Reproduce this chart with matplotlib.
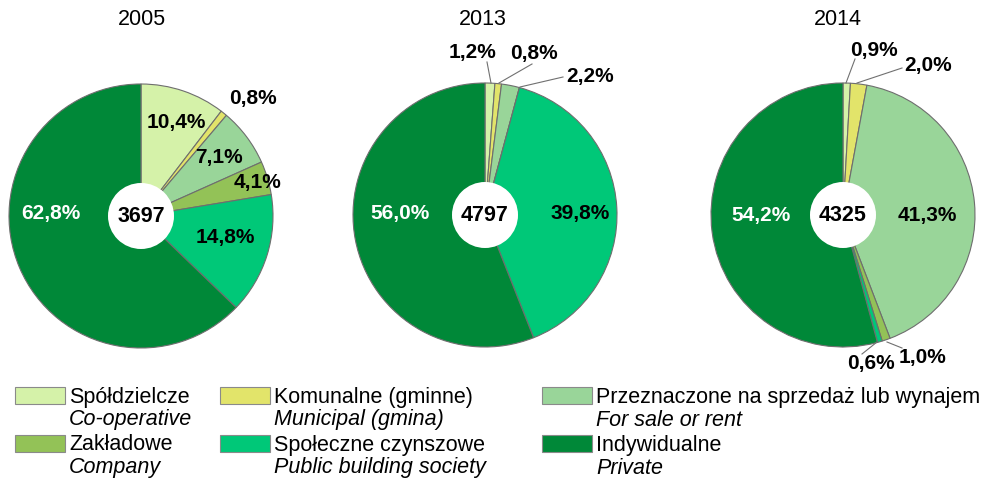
import matplotlib
matplotlib.use("Agg")
import matplotlib.pyplot as plt
from matplotlib.patches import Rectangle, Circle

plt.rcParams['font.family'] = ['Liberation Sans', 'DejaVu Sans']

W, H = 989, 478

# ---- data ----
categories_pl = ["Spółdzielcze", "Komunalne (gminne)",
                 "Przeznaczone na sprzedaż lub wynajem", "Zakładowe",
                 "Społeczne czynszowe", "Indywidualne"]
categories_en = ["Co-operative", "Municipal (gmina)", "For sale or rent",
                 "Company", "Public building society", "Private"]
years = ["2005", "2013", "2014"]
totals = [3697, 4797, 4325]
share_2005 = [10.4, 0.8, 7.1, 4.1, 14.8, 62.8]
share_2013 = [1.2, 0.8, 2.2, 0.0, 39.8, 56.0]
share_2014 = [0.9, 2.0, 41.3, 1.0, 0.6, 54.2]
shares = [share_2005, share_2013, share_2014]

# ---- style / layout ----
colors = ["#d5f2a9", "#e2e46a", "#99d599", "#93c257", "#00c878", "#008838"]
edge = "#6e6e6e"
centers = [(141, 216), (485, 215), (843, 215)]   # image pixel coords
radius = 132
hole_r = 33

# label positions (image pixel coords), None = no label
label_pos = [
    [(176, 122), (253, 98), (219, 157), (258, 182), (225, 237), (51, 213)],
    [(473, 52), (534, 53), (590, 76), None, (580, 213), (400, 213)],
    [(874, 50), (928, 65), (927, 215), (923, 357), (871, 364), (761, 215)],
]
# leader lines (image pixel coords) per pie, index -> (start, end)
leaders = [
    {},
    {0: ((487, 62), (491, 83)), 1: ((532, 64), (499, 83)), 2: ((563, 77), (520, 87))},
    {0: ((855, 59), (846, 83)), 1: ((902, 68), (857, 83)),
     3: ((902, 348), (887, 342)), 4: ((862, 354), (877, 342))},
]
title_x = [142, 483, 838]


def Y(y):
    return H - y


fig = plt.figure(figsize=(W / 100, H / 100), dpi=100)
ax = fig.add_axes([0, 0, 1, 1])
ax.set_xlim(0, W)
ax.set_ylim(0, H)
ax.set_aspect('equal')
ax.axis('off')

for i, vals in enumerate(shares):
    cx, cy = centers[i]
    ax.pie(vals, colors=colors, startangle=90, counterclock=False,
           center=(cx, Y(cy)), radius=radius,
           wedgeprops=dict(edgecolor=edge, linewidth=0.8), frame=True)
    ax.add_patch(Circle((cx, Y(cy)), hole_r, facecolor='white',
                        edgecolor='none', zorder=5))
    ax.text(cx, Y(cy), str(totals[i]), ha='center', va='center',
            fontsize=15.5, fontweight='bold', color='black', zorder=6)
    ax.text(title_x[i], Y(19), years[i], ha='center', va='center',
            fontsize=15.5, color='black')
    for j, v in enumerate(vals):
        pos = label_pos[i][j]
        if pos is None:
            continue
        txt = f"{v:.1f}%".replace('.', ',')
        col = 'white' if j == 5 else 'black'
        ax.text(pos[0], Y(pos[1]), txt, ha='center', va='center',
                fontsize=15, fontweight='bold', color=col, zorder=7)
    for j, (p0, p1) in leaders[i].items():
        ax.plot([p0[0], p1[0]], [Y(p0[1]), Y(p1[1])], color='#707070',
                linewidth=0.8, zorder=4)

ax.set_xlim(0, W)
ax.set_ylim(0, H)
ax.axis('off')

# ---- legend ----
leg_cols_x = [15, 220, 542]
leg_rows_y = [387, 435]
order = [[0, 3], [1, 4], [2, 5]]
for c, idxs in enumerate(order):
    for r, k in enumerate(idxs):
        x0 = leg_cols_x[c]
        y0 = leg_rows_y[r]
        ax.add_patch(Rectangle((x0, Y(y0 + 17)), 50, 17, facecolor=colors[k],
                               edgecolor='#8a8a8a', linewidth=0.8))
        ax.text(x0 + 54, Y(y0 + 10), categories_pl[k], ha='left',
                va='center', fontsize=15.5, color='black')
        ax.text(x0 + 54, Y(y0 + 33), categories_en[k], ha='left',
                va='center', fontsize=15.5, style='italic', color='black')

fig.savefig("out.png", dpi=100)
